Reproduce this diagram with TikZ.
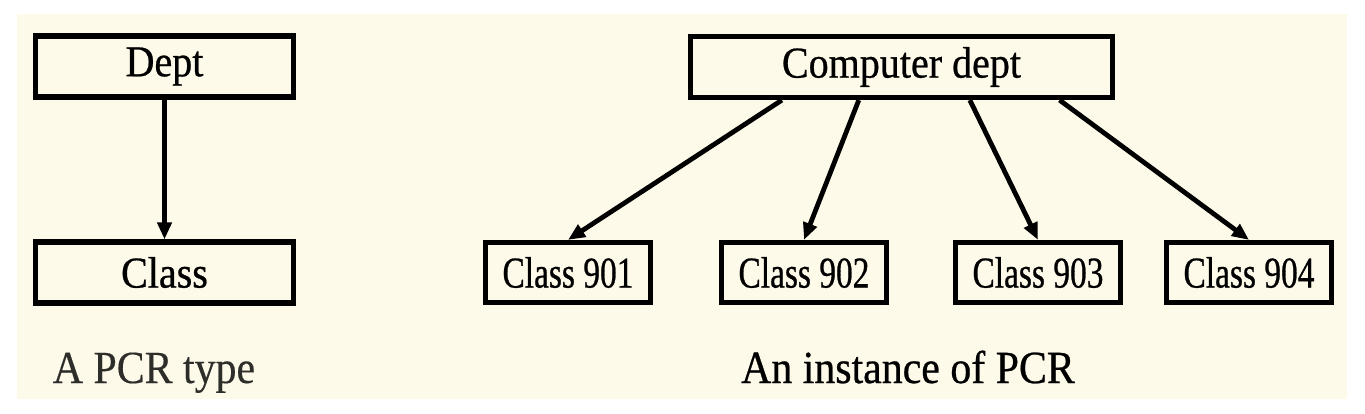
\documentclass[tikz,border=0pt]{standalone}
\usepackage{fontspec}
\setmainfont{Liberation Serif}
\newfontfamily\boxfont[FakeStretch=0.91,FakeBold=0.6]{Liberation Serif}
\newfontfamily\narrowfont[FakeStretch=0.76,FakeBold=0.6]{Liberation Serif}
\newfontfamily\capfont[FakeStretch=0.91,FakeBold=0.3]{Liberation Serif}
\usetikzlibrary{arrows.meta,positioning,calc}

\definecolor{paper}{RGB}{254,250,234}
\definecolor{captiongray}{RGB}{45,45,42}

\tikzset{
  entity/.style={draw, line width=2.6pt, inner sep=0pt,
    minimum width=129pt, minimum height=30.5pt, font=\boxfont\fontsize{22}{26}\selectfont},
  member/.style={entity, minimum width=82.5pt, minimum height=30pt,
    font=\narrowfont\fontsize{22}{26}\selectfont},
  caption/.style={inner sep=0pt, anchor=base, font=\capfont\fontsize{23}{27}\selectfont},
  link/.style={line width=2.4pt, -{Triangle[length=8.5pt,width=7pt]}}
}

\begin{document}
\begin{tikzpicture}[x=0.5pt,y=-0.5pt,node distance=70pt,on grid]
        \useasboundingbox (0,0) rectangle (1365,413);
        \fill[white] (0,0) rectangle (1365,413);
        \fill[paper] (17,14) rectangle (1347,399);

        % PCR type
        \node[entity] (dept)   at (164.5,66.5) {Dept};
        \node[entity] (class)  [below=103pt of dept] {Class};
        \node[caption, text=captiongray] (typecap) at (154,383) {A PCR type};
        \path[link] (dept) edge (class);

        % PCR instance
        \node[entity, minimum width=211pt] (cdept) at (901.5,67) {Computer dept};
        \node[member] (c901) at (568,272.5) {Class 901};
        \node[member] (c902) [right=118pt of c901] {Class 902};
        \node[member] (c903) [right=117pt of c902] {Class 903};
        \node[member] (c904) [right=105.5pt of c903] {Class 904};
        \node[caption, font=\boxfont\fontsize{23}{27}\selectfont] (instcap) at (908,383) {An instance of PCR};
        \draw[link] ($(cdept.south west)!0.22!(cdept.south east)$) -- (c901.north);
        \draw[link] ($(cdept.south west)!0.40!(cdept.south east)$) -- (c902.north);
        \draw[link] ($(cdept.south west)!0.66!(cdept.south east)$) -- (c903.north);
        \draw[link] ($(cdept.south west)!0.87!(cdept.south east)$) -- (c904.north);
      \end{tikzpicture}
\end{document}
